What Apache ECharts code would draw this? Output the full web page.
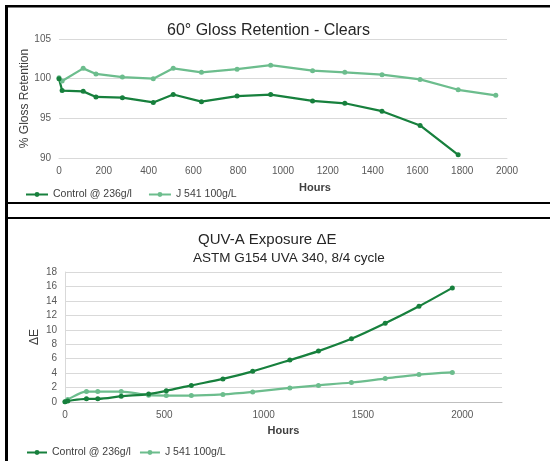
<!DOCTYPE html>
<html>
<head>
<meta charset="utf-8">
<script src="https://cdn.jsdelivr.net/npm/echarts@6/dist/echarts.min.js"></script>
<style>
  html, body { margin: 0; padding: 0; background: #fff; }
  #main { width: 550px; height: 461px; }
</style>
</head>
<body>
<div id="main"></div>
<script>
var dom = document.getElementById("main");
var myChart = echarts.init(dom);

// hours of exposure (same sampling for both panels)
var hours = [0, 14, 108, 165, 283, 421, 510, 636, 795, 945, 1132, 1276, 1442, 1612, 1782, 1950];

// 60° gloss retention, %
var glossControl = [100.0, 98.5, 98.4, 97.7, 97.6, 97.0, 98.0, 97.1, 97.8, 98.0, 97.2, 96.9, 95.9, 94.1, 90.4, null];
var glossJ541 = [100.1, 99.7, 101.3, 100.6, 100.2, 100.0, 101.3, 100.8, 101.2, 101.7, 101.0, 100.8, 100.5, 99.9, 98.6, 97.9];

// QUV-A delta E
var deControl = [0.05, 0.15, 0.45, 0.45, 0.8, 1.1, 1.55, 2.3, 3.2, 4.25, 5.8, 7.05, 8.75, 10.9, 13.25, 15.8];
var deJ541 = [0.05, 0.35, 1.45, 1.45, 1.45, 0.95, 0.9, 0.9, 1.05, 1.4, 1.95, 2.3, 2.7, 3.25, 3.8, 4.1];

var seriesNames = ['Control @ 236g/l', 'J 541 100g/L'];

var darkGreen = '#17803d';
var lightGreen = '#6cbd8d';
var font = 'Liberation Sans';

function pairs(xs, ys) {
    var out = [];
    for (var i = 0; i < xs.length; i++) {
        if (ys[i] !== null) out.push([xs[i], ys[i]]);
    }
    return out;
}

var labelStyle = { color: '#595959', fontSize: 10, fontFamily: font, formatter: function (v) { return String(v); } };
var gridLine = { show: true, lineStyle: { color: '#d9d9d9', width: 1 } };

option = {
    textStyle: { fontFamily: font },
    title: [
        {
            text: '60° Gloss Retention - Clears',
            left: 167, top: 23, padding: 0,
            textStyle: { fontSize: 16, fontWeight: 'normal', color: '#262626', fontFamily: font }
        },
        {
            text: 'QUV-A Exposure ΔE',
            left: 198, top: 232, padding: 0,
            textStyle: { fontSize: 15, fontWeight: 'normal', color: '#262626', fontFamily: font }
        },
        {
            text: 'ASTM G154 UVA 340, 8/4 cycle',
            left: 193, top: 251, padding: 0,
            textStyle: { fontSize: 13.5, fontWeight: 'normal', color: '#262626', fontFamily: font }
        }
    ],
    legend: [
        {
            data: seriesNames,
            left: 25, top: 189, padding: 0,
            itemWidth: 22, itemHeight: 6, itemGap: 16,
            textStyle: { fontSize: 10.5, color: '#404040', fontFamily: font }
        },
        {
            data: seriesNames,
            left: 26, top: 447, padding: 0,
            itemWidth: 20, itemHeight: 6, itemGap: 8,
            textStyle: { fontSize: 10.5, color: '#404040', fontFamily: font }
        }
    ],
    grid: [
        { left: 59, right: 43, top: 39, bottom: 303 },
        { left: 65, right: 48, top: 272, bottom: 59 }
    ],
    xAxis: [
        {
            type: 'value', gridIndex: 0,
            min: 0, max: 2000, interval: 200,
            name: 'Hours', nameLocation: 'middle', nameGap: 24,
            nameTextStyle: { fontSize: 11, fontWeight: 'bold', color: '#404040', padding: [0, 0, 0, 64] },
            axisLine: { show: true, lineStyle: { color: '#d9d9d9' } },
            axisTick: { show: false },
            splitLine: { show: false },
            axisLabel: labelStyle
        },
        {
            type: 'value', gridIndex: 1,
            min: 0, max: 2200, interval: 500,
            name: 'Hours', nameLocation: 'middle', nameGap: 23,
            nameTextStyle: { fontSize: 11, fontWeight: 'bold', color: '#404040' },
            axisLine: { show: true, lineStyle: { color: '#bfbfbf' } },
            axisTick: { show: false },
            splitLine: { show: false },
            axisLabel: Object.assign({ showMaxLabel: false }, labelStyle)
        }
    ],
    yAxis: [
        {
            type: 'value', gridIndex: 0,
            min: 90, max: 105, interval: 5,
            name: '% Gloss Retention', nameLocation: 'middle', nameGap: 28,
            nameMoveOverlap: false,
            nameTextStyle: { fontSize: 12, color: '#404040' },
            axisLine: { show: false },
            axisTick: { show: false },
            splitLine: gridLine,
            axisLabel: labelStyle
        },
        {
            type: 'value', gridIndex: 1,
            min: 0, max: 18, interval: 2,
            name: 'ΔE', nameLocation: 'middle', nameGap: 24,
            nameMoveOverlap: false,
            nameTextStyle: { fontSize: 12, color: '#404040' },
            axisLine: { show: true, lineStyle: { color: '#d9d9d9' } },
            axisTick: { show: false },
            splitLine: gridLine,
            axisLabel: labelStyle
        }
    ],
    series: [
        {
            name: seriesNames[1], type: 'line', xAxisIndex: 0, yAxisIndex: 0,
            data: pairs(hours, glossJ541),
            symbol: 'circle', symbolSize: 5,
            itemStyle: { color: lightGreen },
            lineStyle: { color: lightGreen, width: 2.25 }
        },
        {
            name: seriesNames[0], type: 'line', xAxisIndex: 0, yAxisIndex: 0,
            data: pairs(hours, glossControl),
            symbol: 'circle', symbolSize: 5,
            itemStyle: { color: darkGreen },
            lineStyle: { color: darkGreen, width: 2.25 }
        },
        {
            name: seriesNames[1], type: 'line', xAxisIndex: 1, yAxisIndex: 1,
            data: pairs(hours, deJ541),
            smooth: 0.3,
            symbol: 'circle', symbolSize: 5,
            itemStyle: { color: lightGreen },
            lineStyle: { color: lightGreen, width: 2.25 }
        },
        {
            name: seriesNames[0], type: 'line', xAxisIndex: 1, yAxisIndex: 1,
            data: pairs(hours, deControl),
            smooth: 0.3,
            symbol: 'circle', symbolSize: 5,
            itemStyle: { color: darkGreen },
            lineStyle: { color: darkGreen, width: 2.25 }
        }
    ],
    // black frames round the two panels
    graphic: [
        { type: 'rect', shape: { x: 5, y: 5, width: 545, height: 2.5 }, style: { fill: '#000' } },
        { type: 'rect', shape: { x: 5, y: 5, width: 3, height: 456 }, style: { fill: '#000' } },
        { type: 'rect', shape: { x: 5, y: 202, width: 545, height: 2 }, style: { fill: '#000' } },
        { type: 'rect', shape: { x: 5, y: 217, width: 545, height: 2 }, style: { fill: '#000' } }
    ]
};

if (option && typeof option === "object") {
    myChart.setOption(option, true);
}
</script>
</body>
</html>
